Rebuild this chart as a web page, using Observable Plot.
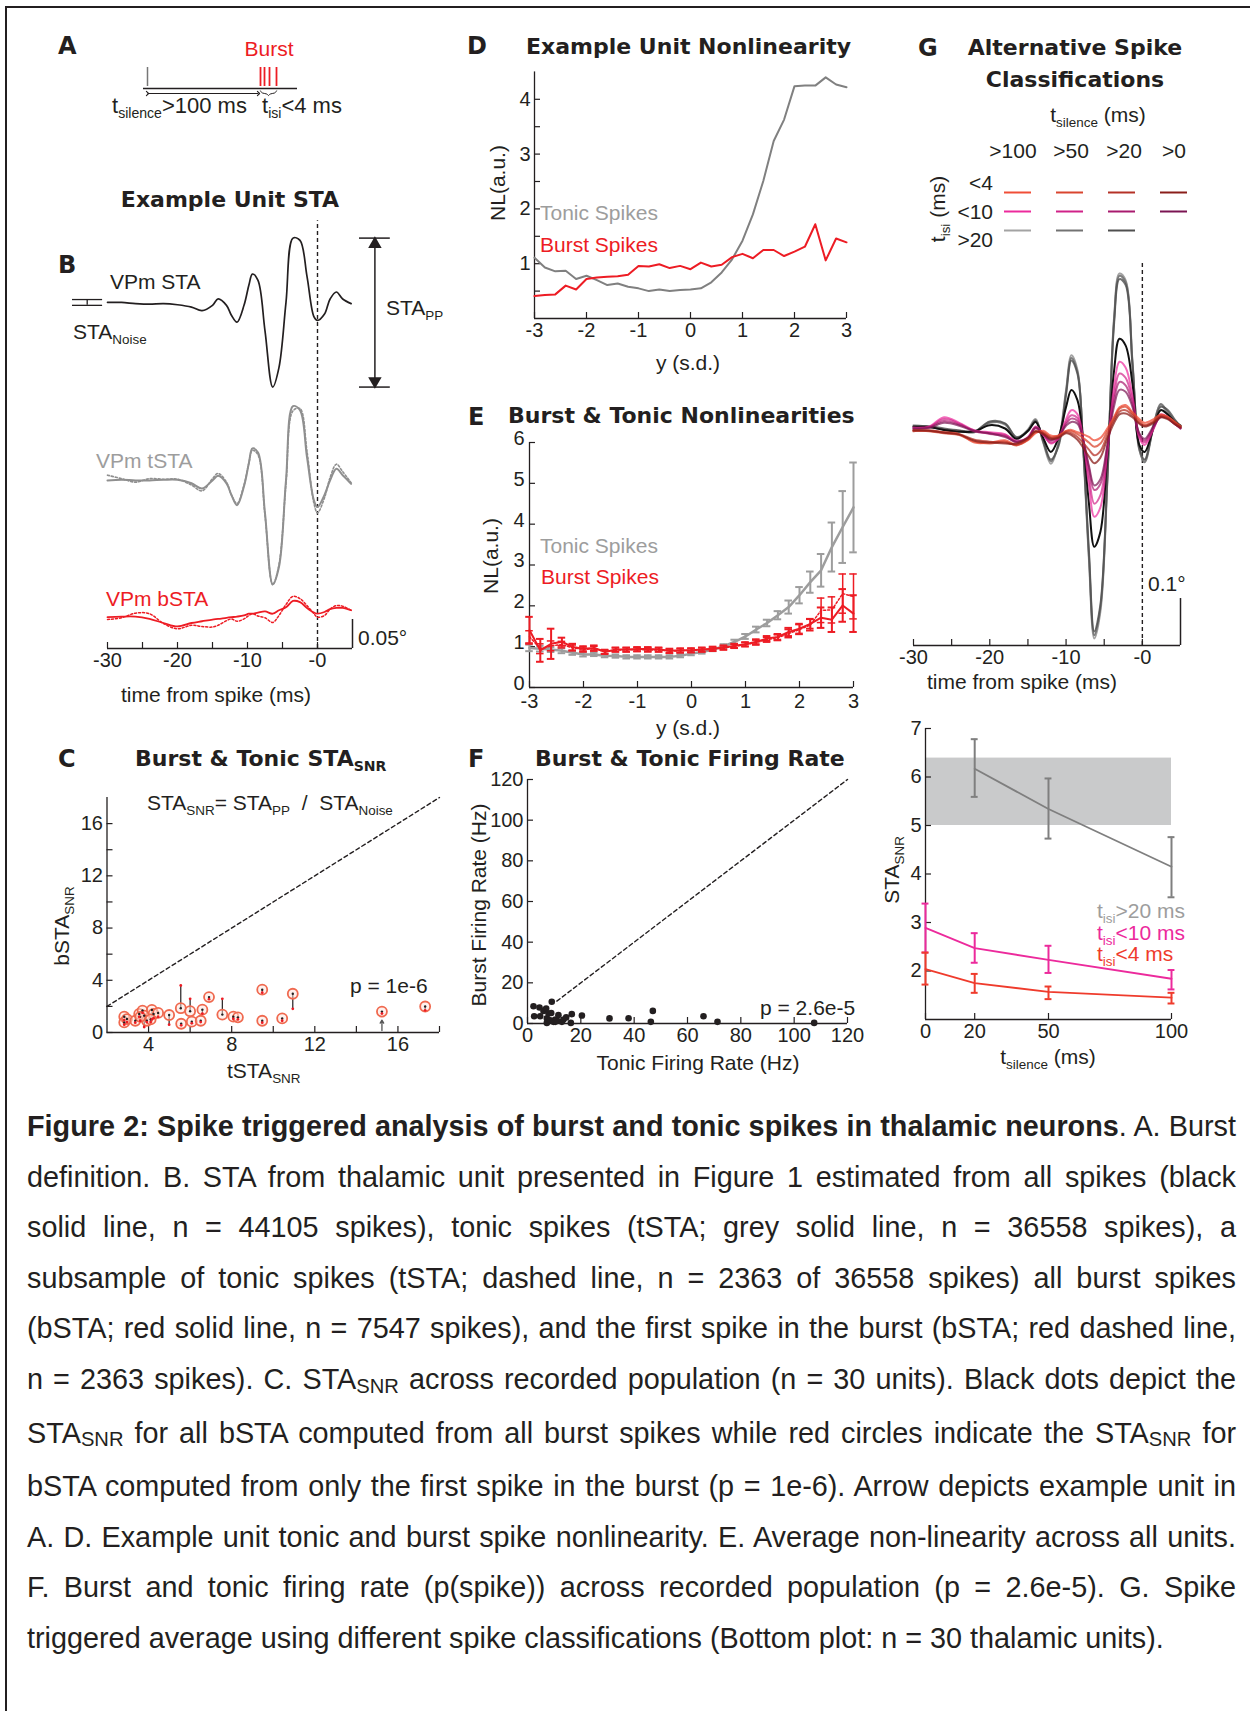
<!DOCTYPE html>
<html>
<head>
<meta charset="utf-8">
<script src="https://cdn.jsdelivr.net/npm/d3@7"></script>
<script src="https://cdn.jsdelivr.net/npm/@observablehq/plot@0.6"></script>
<style>
html,body{margin:0;padding:0;background:#fff;}
#fig{position:relative;width:1250px;height:1711px;overflow:hidden;background:#fff;font-family:"Liberation Sans",Arial,Helvetica,sans-serif;color:#231f20;}
.frame-top{position:absolute;left:5px;top:6px;width:1260px;height:0;border-top:2px solid #231f20;}
.frame-left{position:absolute;left:5px;top:6px;width:0;height:1720px;border-left:2px solid #231f20;}
.lbl{position:absolute;white-space:nowrap;line-height:1;}
.s{font-size:0.64em;position:relative;top:0.36em;}
.panel{position:absolute;}
.panel svg{display:block;overflow:visible;}
#caption{position:absolute;left:27px;top:1101px;width:1209px;font-size:28.8px;line-height:50.6px;color:#231f20;}
#caption .ln{text-align:justify;text-align-last:justify;}
#caption .ln.last{text-align-last:left;}
#caption .cs{font-size:0.7em;position:relative;top:0.18em;}
</style>
</head>
<body>
<div id="fig">
  <div class="frame-top"></div>
  <div class="frame-left"></div>
  <div id="caption">
    <div class="ln"><b>Figure 2: Spike triggered analysis of burst and tonic spikes in thalamic neurons</b>. A. Burst</div>
    <div class="ln">definition. B. STA from thalamic unit presented in Figure 1 estimated from all spikes (black</div>
    <div class="ln">solid line, n = 44105 spikes), tonic spikes (tSTA; grey solid line, n = 36558 spikes), a</div>
    <div class="ln">subsample of tonic spikes (tSTA; dashed line, n = 2363 of 36558 spikes) all burst spikes</div>
    <div class="ln">(bSTA; red solid line, n = 7547 spikes), and the first spike in the burst (bSTA; red dashed line,</div>
    <div class="ln">n = 2363 spikes). C. STA<span class="cs">SNR</span> across recorded population (n = 30 units). Black dots depict the</div>
    <div class="ln">STA<span class="cs">SNR</span> for all bSTA computed from all burst spikes while red circles indicate the STA<span class="cs">SNR</span> for</div>
    <div class="ln">bSTA computed from only the first spike in the burst (p = 1e-6). Arrow depicts example unit in</div>
    <div class="ln">A. D. Example unit tonic and burst spike nonlinearity. E. Average non-linearity across all units.</div>
    <div class="ln">F. Burst and tonic firing rate (p(spike)) across recorded population (p = 2.6e-5). G. Spike</div>
    <div class="ln last">triggered average using different spike classifications (Bottom plot: n = 30 thalamic units).</div>
  </div>
</div>
<script>
// ---------------- DATA ----------------
// Panel A: schematic spike train (ms)
const aTimeline = [-4, 150];
const aTonicSpike = [0];
const aBurstSpikes = [113, 117, 122, 129];

// Panel B: example unit STA traces (degrees) vs time from spike (ms)
const bTime = [-30,-28,-26,-24,-22,-20,-18,-16.5,-15,-14.2,-13,-12.3,-11.5,-10.5,-9.8,-9.3,-8.5,-7.5,-6.4,-5.5,-4.5,-3.5,-2.5,-1.5,-0.5,0,1,1.8,2.7,3.6,4.8];
const staAll   = [0.0,0.0,-0.002,-0.003,-0.002,-0.004,-0.008,-0.014,-0.005,0.006,-0.005,-0.022,-0.034,-0.005,0.030,0.049,0.038,-0.049,-0.146,-0.112,0.000,0.111,0.107,0.045,-0.025,-0.031,-0.020,0.006,0.018,0.006,-0.002];
const tstaAll  = [0.0,0.001,0.0,0.0,0.001,0.001,-0.005,-0.014,0.0,0.008,-0.005,-0.025,-0.043,-0.010,0.030,0.055,0.048,-0.057,-0.179,-0.149,0.000,0.128,0.121,0.040,-0.035,-0.046,-0.025,0.000,0.020,0.009,-0.006];
const tstaSub  = [0.009,0.003,-0.003,0.003,0.002,0.002,-0.008,-0.018,0.003,0.012,-0.003,-0.025,-0.040,-0.008,0.030,0.052,0.044,-0.060,-0.180,-0.145,-0.005,0.120,0.124,0.050,-0.040,-0.056,-0.030,0.005,0.028,0.015,-0.004];
const bstaAll  = [-0.003,-0.002,-0.002,-0.006,-0.013,-0.019,-0.013,-0.010,-0.007,-0.006,-0.004,-0.003,-0.002,0.000,0.003,0.003,0.005,0.007,0.003,0.009,0.014,0.025,0.023,0.013,0.005,0.003,0.006,0.011,0.013,0.013,0.009];
const bstaFirst= [-0.007,-0.004,0.004,0.003,-0.014,-0.023,-0.017,-0.019,-0.020,-0.017,-0.009,-0.006,-0.010,-0.006,0.000,0.003,-0.001,-0.004,-0.012,0.000,0.019,0.033,0.029,0.017,0.003,-0.003,0.000,0.011,0.017,0.016,0.009];
const staNoise = 0.005;

// Panel C: STA SNR per unit
const cTonicSNR = [2.83,2.83,2.96,3.36,3.55,3.71,3.79,3.92,4.16,4.24,4.46,4.99,5.55,5.57,6.0,6.08,6.51,6.59,6.91,7.55,8.08,8.3,9.47,9.47,10.43,10.94,15.23,17.31,3.6,4.1];
const cBurstFirstSNR = [1.21,0.77,1.03,0.90,1.42,1.68,1.29,0.90,1.73,1.42,1.50,1.34,1.86,0.67,1.63,0.83,0.90,1.75,2.71,1.37,1.21,1.16,3.28,0.90,1.08,2.97,1.60,1.99,1.2,1.0];
const cBurstAllSNR   = [0.95,0.6,0.8,0.75,1.2,1.5,0.42,0.8,1.0,1.1,1.2,0.6,3.6,0.55,2.58,0.7,0.8,1.45,2.55,2.58,1.05,1.0,3.05,0.75,0.9,1.81,1.45,1.7,0.9,0.8];
const cExampleTonic = 15.23;

// Panels D & E: nonlinearities
const nlX = [-3,-2.8,-2.6,-2.4,-2.2,-2,-1.8,-1.6,-1.4,-1.2,-1,-0.8,-0.6,-0.4,-0.2,0,0.2,0.4,0.6,0.8,1,1.2,1.4,1.6,1.8,2,2.2,2.4,2.6,2.8,3];
const dTonic = [1.11,0.93,0.86,0.87,0.72,0.78,0.70,0.61,0.64,0.58,0.55,0.50,0.53,0.50,0.52,0.53,0.55,0.66,0.84,1.08,1.42,1.90,2.51,3.24,3.63,4.24,4.25,4.25,4.40,4.27,4.22];
const dBurst = [0.41,0.43,0.44,0.60,0.53,0.72,0.75,0.76,0.77,0.80,0.96,0.95,0.99,0.92,0.96,0.90,1.02,0.95,0.98,1.12,1.18,1.10,1.25,1.25,1.14,1.22,1.31,1.72,1.06,1.46,1.39];
const eTonic    = [0.97,0.95,0.93,0.90,0.85,0.81,0.81,0.78,0.77,0.75,0.75,0.75,0.75,0.75,0.78,0.83,0.87,0.93,1.01,1.12,1.25,1.42,1.58,1.77,1.97,2.26,2.58,2.87,3.44,3.93,4.41];
const eTonicErr = [0.08,0.07,0.06,0.06,0.05,0.05,0.04,0.04,0.04,0.04,0.04,0.04,0.04,0.04,0.04,0.04,0.04,0.04,0.05,0.05,0.06,0.07,0.08,0.10,0.16,0.20,0.26,0.40,0.60,0.88,1.10];
const eBurst    = [1.40,0.91,1.07,1.12,0.99,0.95,0.97,0.87,0.93,0.93,0.94,0.94,0.93,0.90,0.91,0.91,0.93,0.95,0.98,1.02,1.06,1.12,1.20,1.24,1.36,1.44,1.56,1.71,1.66,2.01,1.81];
const eBurstErr = [0.33,0.28,0.37,0.10,0.08,0.06,0.06,0.05,0.05,0.05,0.05,0.05,0.05,0.05,0.05,0.05,0.05,0.05,0.05,0.05,0.05,0.06,0.06,0.07,0.10,0.12,0.12,0.25,0.30,0.40,0.45];
const eFirst    = [1.24,0.95,1.02,1.05,0.97,0.93,0.95,0.88,0.92,0.92,0.93,0.92,0.92,0.89,0.90,0.91,0.92,0.94,0.97,1.01,1.05,1.10,1.17,1.22,1.32,1.42,1.53,1.89,1.90,2.30,2.23];
const eFirstErr = [0.15,0.12,0.12,0.08,0.07,0.06,0.06,0.05,0.05,0.05,0.05,0.05,0.05,0.05,0.05,0.05,0.05,0.05,0.05,0.05,0.05,0.06,0.06,0.07,0.10,0.12,0.14,0.30,0.32,0.48,0.55];

// Panel F: firing rates (Hz)
const fTonicRate = [2.25,2.5,4.5,4.75,6,7,7.25,7.25,7.9,8.5,8.9,9.1,9.75,10.4,10.4,11,11.6,12.9,13.5,14.5,16.25,16.6,20.4,30.75,37.9,46.25,47,66,71.25,107.5];
const fBurstRate = [8.5,3.6,7.9,3.6,6.2,7.4,2.5,0.3,4.9,1.6,5.2,10.7,0.8,2,0.8,1.6,4.1,0.8,2,3,0.3,4.6,3.9,2.5,2.6,0.8,6.2,3.6,0.8,0.3];

// Panel G: alternative classifications
const silCols = [">100", ">50", ">20", ">0"];
const isiRows = ["<4", "<10", ">20"];
const legendColors = [
  ["#f04e37", "#d9452f", "#b53227", "#8a1e1a"],
  ["#ec2a9c", "#d02288", "#a81a6e", "#7b1452"],
  ["#a3a3a3", "#727272", "#4f4f4f", null]
];
const gTime = [-30,-28,-26,-24,-22,-20,-18,-16.5,-15,-14,-13,-12,-11,-10,-9.3,-8.5,-7.8,-7,-6.3,-5.5,-4.6,-3.7,-3,-2.2,-1.3,-0.4,0.3,1.5,2.4,3.3,4.2,5];
const gGrey100 = [0.007,0.004,-0.003,-0.006,-0.007,0.014,0.008,-0.022,-0.002,0.020,-0.030,-0.075,-0.030,0.082,0.156,0.124,-0.030,-0.280,-0.447,-0.390,-0.117,0.238,0.330,0.316,0.145,-0.046,-0.068,0.011,0.050,0.032,0.018,0.000];
const gGrey50  = [0.004,0.003,-0.002,-0.005,-0.008,0.012,0.010,-0.020,-0.004,0.018,-0.028,-0.070,-0.034,0.078,0.150,0.120,-0.028,-0.272,-0.440,-0.382,-0.112,0.232,0.325,0.312,0.140,-0.044,-0.072,0.008,0.052,0.036,0.016,0.003];
const gGrey20  = [0.002,0.005,0.000,-0.004,-0.006,0.015,0.011,-0.018,-0.006,0.016,-0.026,-0.066,-0.038,0.072,0.145,0.116,-0.025,-0.262,-0.432,-0.375,-0.108,0.225,0.318,0.306,0.136,-0.040,-0.066,0.006,0.046,0.040,0.020,0.005];
const gAllSpikes = [0.004,0.003,-0.003,-0.007,-0.006,0.007,0.000,-0.022,-0.005,0.014,-0.020,-0.050,-0.020,0.046,0.082,0.060,-0.020,-0.160,-0.252,-0.220,-0.060,0.124,0.191,0.177,0.096,-0.035,-0.050,0.003,0.039,0.030,0.015,0.006];
const gPink100 = [0.002,0.004,0.024,0.012,-0.004,-0.008,-0.012,-0.028,-0.018,0.004,-0.012,-0.032,-0.020,0.020,0.039,0.030,-0.020,-0.120,-0.188,-0.168,-0.050,0.090,0.142,0.130,0.070,-0.020,-0.035,0.000,0.030,0.025,0.012,0.000];
const gPink50  = [0.000,0.003,0.020,0.010,-0.006,-0.010,-0.014,-0.026,-0.020,0.002,-0.014,-0.030,-0.022,0.014,0.028,0.022,-0.020,-0.102,-0.160,-0.142,-0.046,0.072,0.117,0.108,0.060,-0.016,-0.030,0.002,0.028,0.024,0.012,0.002];
const gPink20  = [-0.002,0.002,0.016,0.008,-0.004,-0.012,-0.016,-0.030,-0.022,0.000,-0.012,-0.026,-0.018,0.010,0.021,0.016,-0.020,-0.085,-0.131,-0.118,-0.040,0.060,0.099,0.092,0.052,-0.012,-0.026,0.004,0.026,0.022,0.010,0.000];
const gPink0   = [0.000,0.001,0.012,0.006,-0.006,-0.010,-0.018,-0.028,-0.020,0.002,-0.010,-0.024,-0.016,0.006,0.014,0.010,-0.022,-0.080,-0.121,-0.108,-0.036,0.048,0.082,0.078,0.046,-0.010,-0.022,0.006,0.024,0.022,0.010,0.002];
const gRed100  = [-0.005,-0.005,-0.008,-0.012,-0.030,-0.030,-0.025,-0.035,-0.025,-0.010,-0.005,-0.015,-0.015,-0.005,-0.003,-0.008,-0.012,-0.018,-0.025,-0.020,0.000,0.025,0.045,0.050,0.035,0.020,0.012,0.020,0.030,0.025,0.015,0.005];
const gRed50   = [-0.004,-0.006,-0.010,-0.014,-0.028,-0.032,-0.028,-0.036,-0.024,-0.008,-0.008,-0.018,-0.016,-0.006,-0.006,-0.012,-0.020,-0.030,-0.039,-0.032,-0.006,0.022,0.042,0.046,0.032,0.016,0.008,0.016,0.028,0.024,0.014,0.004];
const gRed20   = [-0.006,-0.004,-0.008,-0.012,-0.024,-0.028,-0.030,-0.034,-0.022,-0.006,-0.010,-0.020,-0.018,-0.008,-0.010,-0.018,-0.030,-0.045,-0.057,-0.048,-0.014,0.018,0.036,0.039,0.028,0.012,0.006,0.014,0.026,0.022,0.012,0.004];
const gRed0    = [-0.004,-0.005,-0.009,-0.013,-0.026,-0.030,-0.032,-0.032,-0.020,-0.006,-0.012,-0.022,-0.020,-0.010,-0.014,-0.024,-0.040,-0.060,-0.074,-0.062,-0.022,0.012,0.030,0.032,0.024,0.010,0.004,0.012,0.024,0.020,0.010,0.002];

// Panel G bottom: STA SNR vs t_silence
const gSilence = [0, 20, 50, 100];
const gBand = [5.0, 6.39];
const gIsi20Sil = [20, 50, 100];
const gIsi20Mean = [6.17, 5.34, 4.15];
const gIsi20Lo = [5.59, 4.73, 3.52];
const gIsi20Hi = [6.78, 5.97, 4.76];
const gIsi10Mean = [2.89, 2.47, 2.23, 1.84];
const gIsi10Lo = [2.38, 2.17, 1.96, 1.62];
const gIsi10Hi = [3.39, 2.78, 2.52, 2.02];
const gIsi4Mean = [2.04, 1.75, 1.57, 1.45];
const gIsi4Lo = [1.72, 1.55, 1.42, 1.33];
const gIsi4Hi = [2.38, 1.94, 1.68, 1.55];

// ---------------- HELPERS ----------------
const FONT = '"Liberation Sans", Arial, Helvetica, sans-serif';
const INK = "#231f20";
const RED = "#ed1c24";
const GREY = "#8f8f8f";
const LGREY = "#9d9d9d";
const PINK = "#ec2a9c";
const fig = document.getElementById("fig");
const baseStyle = {fontSize: "20px", fontFamily: FONT, color: INK, background: "transparent", overflow: "visible"};
const fmt = d => String(d);
const none = () => "";

function label(html, x, y, o = {}) {
  const d = document.createElement("div");
  d.className = "lbl";
  d.innerHTML = html;
  const a = o.anchor || "start";
  const tx = a === "start" ? "0" : a === "middle" ? "-50%" : "-100%";
  d.style.left = x + "px";
  d.style.top = y + "px";
  d.style.fontSize = (o.size || 21) + "px";
  d.style.color = o.color || INK;
  if (o.bold) { d.style.fontFamily = '"DejaVu Sans", sans-serif'; d.style.fontWeight = "bold"; }
  d.style.transform = o.rotate ? `translate(-50%,-50%) rotate(${o.rotate}deg)` : `translate(${tx},-50%)`;
  fig.appendChild(d);
}
function place(svg, left, top) {
  const w = document.createElement("div");
  w.className = "panel";
  w.style.left = left + "px";
  w.style.top = top + "px";
  w.appendChild(svg);
  fig.appendChild(w);
}
const axX = (ticks, tickFormat = fmt, extra = {}) => Plot.axisX({ticks, tickFormat, tickSize: -6, tickPadding: 10, label: null, strokeWidth: 1.2, ...extra});
const axY = (ticks, tickFormat = fmt, extra = {}) => Plot.axisY({ticks, tickFormat, tickSize: -6, tickPadding: 10, label: null, strokeWidth: 1.2, ...extra});
const series = (xs, ys) => xs.map((x, i) => ({x, y: ys[i]}));
const errRows = (xs, m, e) => xs.map((x, i) => ({x, y: m[i], lo: m[i] - e[i], hi: m[i] + e[i]}));

// ---------------- PANEL A ----------------
place(Plot.plot({
  width: 180, height: 50, marginLeft: 13, marginRight: 13, marginTop: 12, marginBottom: 12,
  x: {domain: aTimeline, axis: null}, y: {domain: [0, 1], axis: null},
  style: baseStyle,
  marks: [
    Plot.ruleY([0.19], {x1: aTimeline[0], x2: aTimeline[1], stroke: INK, strokeWidth: 1.5}),
    Plot.ruleX(aTonicSpike, {y1: 0.27, y2: 1, stroke: "#777", strokeWidth: 1.5}),
    Plot.ruleX(aBurstSpikes, {y1: 0.27, y2: 1, stroke: RED, strokeWidth: 1.8}),
    Plot.link([{a: aTonicSpike[0], b: aBurstSpikes[0] - 2}], {x1: "a", x2: "b", y1: 0, y2: 0, stroke: INK, strokeWidth: 1.1, markerStart: "arrow", markerEnd: "arrow"}),
    Plot.line([
      {x: aBurstSpikes[0], y: 0.1}, {x: aBurstSpikes[0] + 1.5, y: 0.0},
      {x: (aBurstSpikes[0] + aBurstSpikes[3]) / 2 - 1, y: 0.0}, {x: (aBurstSpikes[0] + aBurstSpikes[3]) / 2, y: -0.12},
      {x: (aBurstSpikes[0] + aBurstSpikes[3]) / 2 + 1, y: 0.0}, {x: aBurstSpikes[3] - 1.5, y: 0.0}, {x: aBurstSpikes[3], y: 0.1}
    ], {x: "x", y: "y", stroke: INK, strokeWidth: 1, curve: "basis"})
  ]
}), 130, 55);

// ---------------- PANEL B ----------------
const bOff = {all: 0.597, tonic: 0.290, burst: 0.057};
const bTop = 0.738;
const bRows = (vals, off) => bTime.map((t, i) => ({x: t, y: vals[i] + off}));
const ppTop = bOff.all + d3.max(staAll), ppBot = bOff.all + d3.min(staAll);
place(Plot.plot({
  width: 420, height: 470, marginLeft: 47, marginRight: 128, marginTop: 10, marginBottom: 27,
  x: {domain: [-30, 5]}, y: {domain: [0, 0.747], axis: null},
  style: baseStyle,
  marks: [
    Plot.ruleY([0], {stroke: INK, strokeWidth: 1.3}),
    axX(d3.range(-30, 1, 5), d => d === 0 ? "-0" : d % 10 === 0 ? String(d) : ""),
    Plot.ruleX([5], {y1: 0, y2: 0.05, stroke: INK, strokeWidth: 1.5}),
    Plot.ruleX([0], {y1: 0, y2: bTop, stroke: INK, strokeWidth: 1.4, strokeDasharray: "4,3"}),
    Plot.line(bRows(staAll, bOff.all), {x: "x", y: "y", stroke: INK, strokeWidth: 1.7, curve: "catmull-rom"}),
    Plot.line(bRows(tstaSub, bOff.tonic), {x: "x", y: "y", stroke: GREY, strokeWidth: 1.6, strokeDasharray: "2,2", curve: "catmull-rom"}),
    Plot.line(bRows(tstaAll, bOff.tonic), {x: "x", y: "y", stroke: GREY, strokeWidth: 2, curve: "catmull-rom"}),
    Plot.line(bRows(bstaFirst, bOff.burst), {x: "x", y: "y", stroke: RED, strokeWidth: 1.5, strokeDasharray: "2,2", curve: "catmull-rom"}),
    Plot.line(bRows(bstaAll, bOff.burst), {x: "x", y: "y", stroke: RED, strokeWidth: 1.8, curve: "catmull-rom"}),
    // STA_PP marker
    Plot.ruleY([ppTop, ppBot], {x1: 6.0, x2: 10.4, stroke: INK, strokeWidth: 1.5}),
    Plot.ruleX([8.2], {y1: ppBot + 0.012, y2: ppTop - 0.012, stroke: INK, strokeWidth: 1.5}),
    Plot.dot([{x: 8.2, y: ppTop}], {x: "x", y: "y", symbol: "triangle", r: 5, fill: INK, dy: 6}),
    Plot.dot([{x: 8.2, y: ppBot}], {x: "x", y: "y", symbol: "triangle", r: 5, fill: INK, rotate: 180, dy: -6}),
    // STA_Noise marker
    Plot.ruleY([bOff.all + staNoise, bOff.all - staNoise], {x1: -35, x2: -30.7, stroke: INK, strokeWidth: 1.3}),
    Plot.ruleX([-32.9], {y1: bOff.all - staNoise, y2: bOff.all + staNoise, stroke: INK, strokeWidth: 1.3})
  ]
}), 60, 205);

// ---------------- PANEL C ----------------
const cRows = cTonicSNR.map((x, i) => ({x, first: cBurstFirstSNR[i], all: cBurstAllSNR[i]}));
const cDiag = [2, 18];
place(Plot.plot({
  width: 410, height: 285, marginLeft: 56.5, marginRight: 21, marginTop: 12, marginBottom: 38,
  x: {domain: [2, 18]}, y: {domain: [0, 18]},
  style: baseStyle,
  marks: [
    Plot.ruleY([0], {stroke: INK, strokeWidth: 1.3}),
    Plot.ruleX([2], {stroke: INK, strokeWidth: 1.3}),
    axX(d3.range(4, 19, 2), d => d % 4 === 0 && d < 18 ? String(d) : ""),
    axY(d3.range(0, 17, 2), d => d % 4 === 0 ? String(d) : ""),
    Plot.line(cDiag.map(v => ({v})), {x: "v", y: "v", stroke: INK, strokeWidth: 1.4, strokeDasharray: "4,3"}),
    Plot.link(cRows, {x1: "x", x2: "x", y1: "first", y2: "all", stroke: INK, strokeWidth: 1.2}),
    Plot.dot(cRows, {x: "x", y: "first", r: 5, stroke: "#f0694f", strokeWidth: 1.8, fill: "#fde3dc", fillOpacity: 0.5}),
    Plot.dot(cRows, {x: "x", y: "first", r: 1.2, fill: INK}),
    Plot.dot(cRows, {x: "x", y: "all", r: 1.4, fill: RED}),
    Plot.arrow([{x: cExampleTonic}], {x1: "x", x2: "x", y1: 0.15, y2: 0.95, stroke: "#555", strokeWidth: 1.3, headLength: 6})
  ]
}), 50, 785);

// ---------------- PANEL D ----------------
place(Plot.plot({
  width: 400, height: 290, marginLeft: 64, marginRight: 24, marginTop: 11.4, marginBottom: 32,
  x: {domain: [-3, 3]}, y: {domain: [0, 4.5]},
  style: baseStyle,
  marks: [
    Plot.ruleY([0], {stroke: INK, strokeWidth: 1.3}),
    Plot.ruleX([-3], {stroke: INK, strokeWidth: 1.3}),
    axX(d3.range(-3, 4, 1)),
    axY(d3.range(0.5, 4.01, 0.5), d => Number.isInteger(d) ? String(d) : ""),
    Plot.line(series(nlX, dTonic), {x: "x", y: "y", stroke: "#808080", strokeWidth: 2}),
    Plot.line(series(nlX, dBurst), {x: "x", y: "y", stroke: RED, strokeWidth: 2})
  ]
}), 470, 60);

// ---------------- PANEL E ----------------
const eT = errRows(nlX, eTonic, eTonicErr), eB = errRows(nlX, eBurst, eBurstErr), eF = errRows(nlX, eFirst, eFirstErr);
const capW = 0.07;
const errMarks = (rows, color, w) => [
  Plot.ruleX(rows, {x: "x", y1: "lo", y2: "hi", stroke: color, strokeWidth: w}),
  Plot.ruleY(rows, {y: "lo", x1: d => d.x - capW, x2: d => d.x + capW, stroke: color, strokeWidth: w}),
  Plot.ruleY(rows, {y: "hi", x1: d => d.x - capW, x2: d => d.x + capW, stroke: color, strokeWidth: w})
];
const eYTicks = d3.range(0, 7, 1);
place(Plot.plot({
  width: 410, height: 290, marginLeft: 69, marginRight: 17, marginTop: 12, marginBottom: 33,
  x: {domain: [-3, 3]}, y: {domain: [0, 6]},
  style: baseStyle,
  marks: [
    Plot.ruleY([0], {stroke: INK, strokeWidth: 1.3}),
    Plot.ruleX([-3], {stroke: INK, strokeWidth: 1.3}),
    axX(d3.range(-3, 4, 1), fmt, {tickPadding: 12}),
    axY(eYTicks, none),
    Plot.axisY({ticks: eYTicks, tickFormat: fmt, tickSize: 0, tickPadding: 5, dy: -4, label: null}),
    ...errMarks(eT, LGREY, 2),
    Plot.line(eT, {x: "x", y: "y", stroke: LGREY, strokeWidth: 2.5}),
    ...errMarks(eF, RED, 1.5),
    Plot.line(eF, {x: "x", y: "y", stroke: RED, strokeWidth: 1.5, strokeDasharray: "2,2"}),
    ...errMarks(eB, RED, 2),
    Plot.line(eB, {x: "x", y: "y", stroke: RED, strokeWidth: 2})
  ]
}), 460, 430);

// ---------------- PANEL F ----------------
const fRows = fTonicRate.map((x, i) => ({x, y: fBurstRate[i]}));
place(Plot.plot({
  width: 410, height: 290, marginLeft: 67, marginRight: 23, marginTop: 14, marginBottom: 32,
  x: {domain: [0, 120]}, y: {domain: [0, 120]},
  style: baseStyle,
  marks: [
    Plot.ruleY([0], {stroke: INK, strokeWidth: 1.3}),
    Plot.ruleX([0], {stroke: INK, strokeWidth: 1.3}),
    axX(d3.range(0, 121, 20)),
    axY(d3.range(0, 121, 20)),
    Plot.line([{v: 11}, {v: 120}], {x: "v", y: "v", stroke: INK, strokeWidth: 1.4, strokeDasharray: "4,3"}),
    Plot.dot(fRows, {x: "x", y: "y", r: 3.3, fill: INK})
  ]
}), 460, 765);

// ---------------- PANEL G legend ----------------
const legendCells = [];
isiRows.forEach((row, ri) => silCols.forEach((col, ci) => {
  if (legendColors[ri][ci]) legendCells.push({row, col, color: legendColors[ri][ci]});
}));
place(Plot.plot({
  width: 210, height: 90, marginLeft: 13, marginRight: 12, marginTop: 17, marginBottom: 15,
  x: {type: "band", domain: silCols, paddingInner: 0.48, paddingOuter: 0, axis: null},
  y: {type: "point", domain: isiRows, axis: null},
  color: {type: "identity"},
  style: baseStyle,
  marks: [Plot.tickY(legendCells, {x: "col", y: "row", stroke: "color", strokeWidth: 2})]
}), 990, 165);

// ---------------- PANEL G top ----------------
const gTraces = [
  {v: gGrey100, c: legendColors[2][0], o: 1},
  {v: gGrey50, c: legendColors[2][1], o: 0.9},
  {v: gGrey20, c: legendColors[2][2], o: 0.8},
  {v: gAllSpikes, c: "#111111", o: 1},
  {v: gPink100, c: legendColors[1][0], o: 0.7},
  {v: gPink50, c: legendColors[1][1], o: 0.7},
  {v: gPink20, c: legendColors[1][2], o: 0.7},
  {v: gPink0, c: legendColors[1][3], o: 0.7},
  {v: gRed100, c: legendColors[0][0], o: 0.75},
  {v: gRed50, c: legendColors[0][1], o: 0.75},
  {v: gRed20, c: legendColors[0][2], o: 0.75},
  {v: gRed0, c: legendColors[0][3], o: 0.75}
];
const gBottom = -0.462;
place(Plot.plot({
  width: 390, height: 430, marginLeft: 53, marginRight: 70, marginTop: 8.9, marginBottom: 35,
  x: {domain: [-30, 5]}, y: {domain: [gBottom, 0.36], axis: null},
  style: baseStyle,
  marks: [
    Plot.ruleY([gBottom], {stroke: INK, strokeWidth: 1.3}),
    axX(d3.range(-30, 1, 5), d => d === 0 ? "-0" : d % 10 === 0 ? String(d) : ""),
    Plot.ruleX([5], {y1: gBottom, y2: gBottom + 0.1, stroke: INK, strokeWidth: 1.5}),
    Plot.ruleX([0], {y1: gBottom, y2: 0.353, stroke: INK, strokeWidth: 1.4, strokeDasharray: "4,3"}),
    ...gTraces.map(tr => Plot.line(series(gTime, tr.v), {x: "x", y: "y", stroke: tr.c, strokeOpacity: tr.o, strokeWidth: 2, curve: "catmull-rom"}))
  ]
}), 860, 250);

// ---------------- PANEL G bottom ----------------
const g20 = gIsi20Sil.map((x, i) => ({x, y: gIsi20Mean[i], lo: gIsi20Lo[i], hi: gIsi20Hi[i]}));
const g10 = gSilence.map((x, i) => ({x, y: gIsi10Mean[i], lo: gIsi10Lo[i], hi: gIsi10Hi[i]}));
const g4 = gSilence.map((x, i) => ({x, y: gIsi4Mean[i], lo: gIsi4Lo[i], hi: gIsi4Hi[i]}));
const gCap = 1.4;
const gErr = (rows, color) => [
  Plot.ruleX(rows, {x: "x", y1: "lo", y2: "hi", stroke: color, strokeWidth: 2}),
  Plot.ruleY(rows, {y: "lo", x1: d => d.x - gCap, x2: d => d.x + gCap, stroke: color, strokeWidth: 2}),
  Plot.ruleY(rows, {y: "hi", x1: d => d.x - gCap, x2: d => d.x + gCap, stroke: color, strokeWidth: 2}),
  Plot.line(rows, {x: "x", y: "y", stroke: color, strokeWidth: 1.8})
];
place(Plot.plot({
  width: 380, height: 330, marginLeft: 55, marginRight: 79, marginTop: 13, marginBottom: 26,
  x: {domain: [0, 100]}, y: {domain: [1, 7]},
  style: baseStyle,
  marks: [
    Plot.rect([{lo: gBand[0], hi: gBand[1]}], {x1: gSilence[0], x2: gSilence[3], y1: "lo", y2: "hi", fill: "#c9cacb"}),
    Plot.ruleY([1], {stroke: INK, strokeWidth: 1.3}),
    Plot.ruleX([0], {stroke: INK, strokeWidth: 1.3}),
    axX(gSilence),
    axY(d3.range(2, 8, 1)),
    ...gErr(g20, "#7f7f7f"),
    ...gErr(g10, PINK),
    ...gErr(g4, "#ef3b2c")
  ]
}), 870, 715);

// ---------------- TEXT ----------------
const L = {bold: true, size: 24};
const T = {bold: true, size: 22};
label("A", 58, 46, L); label("B", 58, 265, L); label("C", 58, 759, L);
label("D", 467, 46, L); label("E", 468, 417, L); label("F", 468, 759, L); label("G", 918, 48, L);

// A
label("Burst", 269, 48, {anchor: "middle", color: RED, size: 21});
label('t<span class="s">silence</span>&gt;100 ms', 112, 106, {size: 22});
label('t<span class="s">isi</span>&lt;4 ms', 262, 106, {size: 22});

// B
label("Example Unit STA", 230, 200, {...T, anchor: "middle"});
label("VPm STA", 110, 281);
label('STA<span class="s">Noise</span>', 73, 331);
label('STA<span class="s">PP</span>', 386, 307);
label("VPm tSTA", 96, 460, {color: LGREY});
label("VPm bSTA", 106, 598, {color: RED});
label("0.05°", 358, 637);
label("time from spike (ms)", 216, 694, {anchor: "middle"});

// C
label('Burst &amp; Tonic STA<span class="s">SNR</span>', 135, 759, T);
label('STA<span class="s">SNR</span>= STA<span class="s">PP</span>&nbsp; /&nbsp; STA<span class="s">Noise</span>', 147, 802);
label("p = 1e-6", 350, 985);
label('tSTA<span class="s">SNR</span>', 227, 1070);
label('bSTA<span class="s">SNR</span>', 61, 926, {rotate: -90});

// D
label("Example Unit Nonlinearity", 526, 47, T);
label("Tonic Spikes", 540, 212, {color: LGREY});
label("Burst Spikes", 540, 244, {color: RED});
label("NL(a.u.)", 497, 183, {rotate: -90});
label("y (s.d.)", 688, 362, {anchor: "middle"});

// E
label("Burst &amp; Tonic Nonlinearities", 508, 416, T);
label("Tonic Spikes", 540, 545, {color: LGREY});
label("Burst Spikes", 541, 576, {color: RED});
label("NL(a.u.)", 490, 556, {rotate: -90});
label("y (s.d.)", 688, 727, {anchor: "middle"});

// F
label("Burst &amp; Tonic Firing Rate", 535, 759, T);
label("p = 2.6e-5", 760, 1007);
label("Burst Firing Rate (Hz)", 478, 905, {rotate: -90});
label("Tonic Firing Rate (Hz)", 698, 1062, {anchor: "middle"});

// G
label("Alternative Spike", 1075, 48, {...T, anchor: "middle"});
label("Classifications", 1075, 80, {...T, anchor: "middle"});
label('t<span class="s">silence</span> (ms)', 1098, 114, {anchor: "middle"});
[[">100", 1013], [">50", 1071], [">20", 1124], [">0", 1174]].forEach(([t, x]) => label(t.replace(">", "&gt;"), x, 150, {anchor: "middle"}));
[["&lt;4", 182], ["&lt;10", 211], ["&gt;20", 239]].forEach(([t, y]) => label(t, 993, y, {anchor: "end"}));
label('t<span class="s">isi</span> (ms)', 937, 209, {rotate: -90});
label("0.1°", 1148, 583);
label("time from spike (ms)", 1022, 681, {anchor: "middle"});
label('t<span class="s">isi</span>&gt;20 ms', 1097, 910, {color: LGREY});
label('t<span class="s">isi</span>&lt;10 ms', 1097, 932, {color: PINK});
label('t<span class="s">isi</span>&lt;4 ms', 1097, 953, {color: "#ef3b2c"});
label('STA<span class="s">SNR</span>', 891, 870, {rotate: -90});
label('t<span class="s">silence</span> (ms)', 1048, 1056, {anchor: "middle"});
</script>
</body>
</html>
